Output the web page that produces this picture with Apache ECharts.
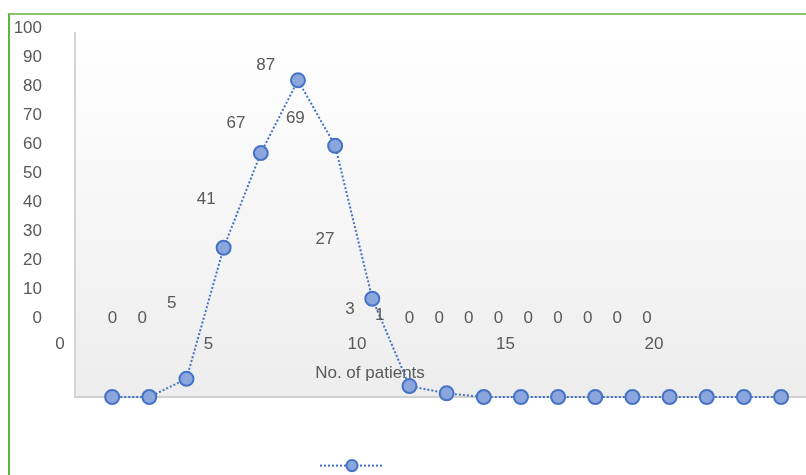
<!DOCTYPE html>
<html>
<head>
<meta charset="utf-8">
<script src="https://cdn.jsdelivr.net/npm/echarts@6/dist/echarts.min.js"></script>
<style>
html,body{margin:0;padding:0;background:#fff;}
#chart{width:806px;height:475px;}
</style>
</head>
<body>
<div id="chart"></div>
<script>
// Categories (No. of patients) and counts
const patients = [1,2,3,4,5,6,7,8,9,10,11,12,13,14,15,16,17,18,19];
const counts   = [0,0,5,41,67,87,69,27,3,1,0,0,0,0,0,0,0,0,0];
const yTicks = [0,10,20,30,40,50,60,70,80,90,100];
const xTicks = [0,5,10,15,20];

const font = 'Liberation Sans';
const txt = '#595959';

const chart = echarts.init(document.getElementById('chart'), null, {renderer:'canvas'});

const labelData = patients.map((p,i)=>[p, counts[i]]);
const lineData = patients.map((p,i)=>[p, counts[i]]);

chart.setOption({
  animation:false,
  backgroundColor:'#ffffff',
  textStyle:{fontFamily:font},
  grid:[
    {left:60, top:28, width:594, height:290, show:false},
    {left:75, top:33, width:731, height:364, show:true, borderWidth:0,
     backgroundColor:{type:'linear',x:0,y:0,x2:0,y2:1,colorStops:[{offset:0,color:'#ffffff'},{offset:1,color:'#ededed'}]}}
  ],
  xAxis:[
    {gridIndex:0, type:'value', min:xTicks[0], max:xTicks[xTicks.length-1], interval:5,
     axisLine:{show:false}, axisTick:{show:false}, splitLine:{show:false},
     axisLabel:{color:txt, fontSize:17, margin:18, fontFamily:font},
     name:'No. of patients', nameLocation:'middle', nameGap:47,
     nameTextStyle:{color:txt, fontSize:17, fontFamily:font, padding:[0,0,0,26]}},
    {gridIndex:1, type:'value', min:0, max:19.67,
     axisLine:{show:true, onZero:false, lineStyle:{color:'#d0d0d0', width:2}},
     axisTick:{show:false}, splitLine:{show:false}, axisLabel:{show:false}}
  ],
  yAxis:[
    {gridIndex:0, type:'value', min:yTicks[0], max:yTicks[yTicks.length-1], interval:10,
     axisLine:{show:false}, axisTick:{show:false}, splitLine:{show:false},
     axisLabel:{color:txt, fontSize:17, margin:18, fontFamily:font, padding:[5,0,0,0]}},
    {gridIndex:1, type:'value', min:0, max:100,
     axisLine:{show:true, lineStyle:{color:'#d4d4d4', width:2}},
     axisTick:{show:false}, splitLine:{show:false}, axisLabel:{show:false}}
  ],
  legend:{
    left:314, top:454, itemWidth:64, itemHeight:14, itemGap:0,
    data:[{name:' '}],
    textStyle:{fontSize:1}
  },
  series:[
    {
      type:'scatter', xAxisIndex:0, yAxisIndex:0, data:labelData,
      symbol:'circle', symbolSize:2, silent:true, legendHoverLink:false, z:10,
      itemStyle:{color:'rgba(255,255,255,0)'},
      label:{show:true, position:'right', distance:17, offset:[0,4], color:txt, opacity:1,
        fontSize:17, fontFamily:font,
        formatter:function(p){return String(p.value[1]);}},
      labelLayout:{hideOverlap:false}
    },
    {
      name:' ', type:'line', xAxisIndex:1, yAxisIndex:1, data:lineData,
      symbol:'circle', symbolSize:14, z:5,
      lineStyle:{color:'#4472c4', width:2, type:'dotted'},
      itemStyle:{color:'#8ba6dc', borderColor:'#4472c4', borderWidth:2},
      label:{show:false}
    }
  ],
  graphic:[
    {type:'line', shape:{x1:8, y1:14, x2:806, y2:14}, style:{stroke:'#86c46b', lineWidth:2}, z:100},
    {type:'line', shape:{x1:9, y1:14, x2:9, y2:475}, style:{stroke:'#5cb83c', lineWidth:2}, z:100}
  ]
});
</script>
</body>
</html>
